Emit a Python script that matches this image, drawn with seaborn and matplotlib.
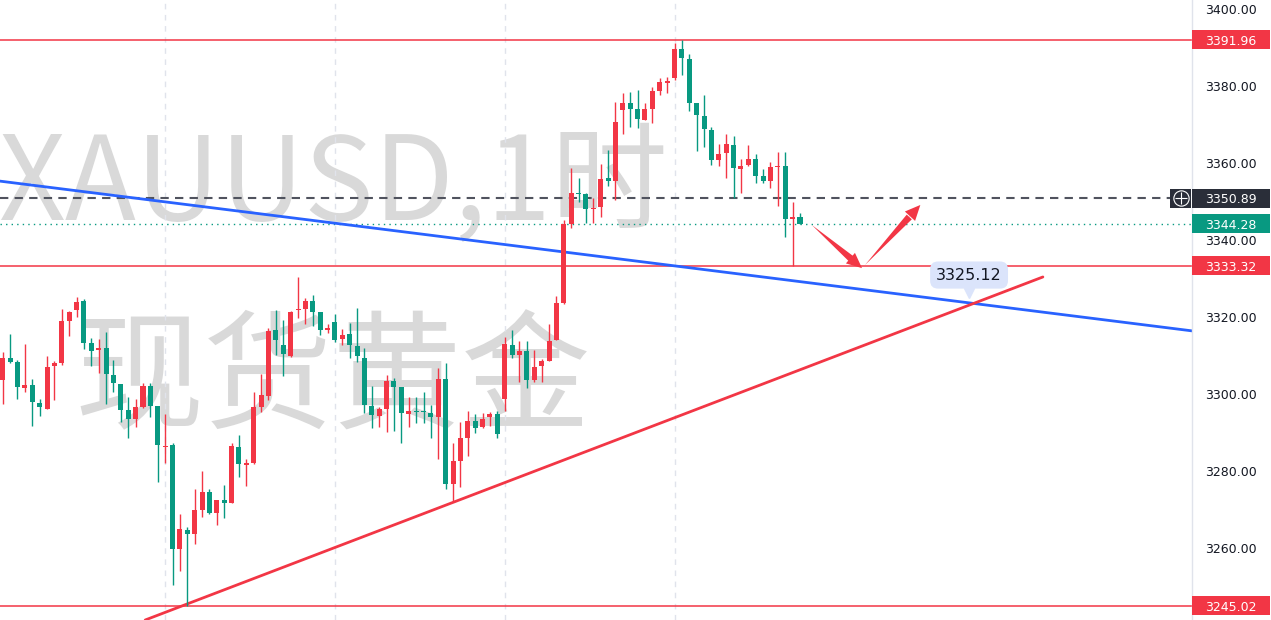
import numpy as np
import matplotlib
matplotlib.use("Agg")
import matplotlib.pyplot as plt
import matplotlib.transforms as mtransforms
from matplotlib.patches import Rectangle
import seaborn as sns

# XAUUSD 1小时K线, 从左到右 (红=涨, 绿=跌)
opens = [3303.6, 3309.3, 3308.2, 3301.6, 3302.3, 3297.6, 3296.2, 3307.3, 3308.1, 3319.0,
         3321.7, 3324.2, 3313.2, 3311.5, 3311.9, 3304.9, 3302.5, 3295.9, 3293.5, 3296.5,
         3302.1, 3297.0, 3286.2, 3286.8, 3259.7, 3264.7, 3263.6, 3270.0, 3274.6, 3269.0,
         3272.5, 3271.8, 3286.3, 3281.6, 3282.1, 3296.6, 3299.6, 3316.5, 3312.6, 3310.0,
         3321.7, 3322.2, 3324.1, 3321.2, 3316.6, 3318.8, 3314.4, 3315.5, 3312.5, 3309.4,
         3297.0, 3294.4, 3296.1, 3303.4, 3301.7, 3294.7, 3295.4, 3295.6, 3295.0, 3294.1,
         3303.8, 3276.6, 3282.6, 3288.5, 3293.1, 3291.4, 3293.9, 3294.8, 3298.8, 3312.7,
         3310.1, 3311.3, 3303.6, 3307.3, 3308.7, 3313.9, 3323.7, 3344.2, 3352.3, 3351.9,
         3348.1, 3348.5, 3356.0, 3355.4, 3373.8, 3375.7, 3373.9, 3371.3, 3374.0, 3378.8,
         3380.9, 3382.2, 3389.6, 3386.9, 3375.5, 3372.3, 3368.6, 3360.8, 3362.7, 3364.7,
         3358.4, 3359.5, 3361.0, 3356.6, 3355.4, 3358.9, 3359.2, 3345.5, 3346.1]
highs = [3311.0, 3315.6, 3308.8, 3312.9, 3303.9, 3298.8, 3310.0, 3308.6, 3322.2, 3321.6,
         3325.2, 3324.6, 3314.6, 3314.2, 3316.1, 3308.8, 3302.5, 3299.1, 3298.7, 3302.8,
         3302.8, 3297.0, 3294.8, 3287.4, 3268.8, 3265.5, 3275.3, 3280.1, 3275.3, 3272.5,
         3276.4, 3287.4, 3289.4, 3283.1, 3300.6, 3305.3, 3317.2, 3321.8, 3319.2, 3321.6,
         3330.5, 3324.9, 3325.6, 3321.2, 3318.1, 3320.8, 3317.0, 3318.5, 3322.4, 3312.0,
         3302.1, 3296.5, 3304.9, 3304.2, 3301.7, 3299.1, 3299.3, 3300.4, 3297.1, 3306.7,
         3308.0, 3287.2, 3292.6, 3295.6, 3294.7, 3295.0, 3295.2, 3295.6, 3314.7, 3316.5,
         3313.8, 3313.8, 3311.4, 3309.2, 3318.1, 3325.5, 3345.2, 3358.6, 3356.0, 3352.1,
         3351.0, 3359.7, 3363.4, 3375.9, 3378.3, 3378.4, 3379.0, 3375.5, 3379.8, 3382.0,
         3382.4, 3391.1, 3391.96, 3388.3, 3375.7, 3377.7, 3369.3, 3364.9, 3367.5, 3367.0,
         3361.0, 3364.6, 3362.3, 3358.4, 3360.2, 3362.8, 3362.8, 3350.0, 3346.9]
lows = [3297.4, 3308.1, 3298.6, 3300.4, 3291.7, 3294.3, 3296.0, 3298.4, 3307.5, 3315.1,
        3320.1, 3311.8, 3307.4, 3305.4, 3297.4, 3300.4, 3292.6, 3288.5, 3291.4, 3296.4,
        3294.0, 3277.1, 3282.0, 3250.5, 3253.9, 3245.02, 3261.0, 3268.1, 3268.8, 3266.0,
        3267.9, 3271.8, 3278.4, 3276.2, 3281.9, 3295.4, 3298.4, 3310.1, 3304.8, 3309.7,
        3319.7, 3318.1, 3317.7, 3315.2, 3315.8, 3313.6, 3312.7, 3309.4, 3308.4, 3295.0,
        3291.3, 3291.5, 3290.2, 3290.5, 3287.4, 3291.5, 3292.4, 3292.4, 3288.7, 3283.0,
        3275.2, 3271.9, 3275.9, 3284.0, 3289.8, 3291.1, 3291.7, 3288.5, 3295.7, 3309.3,
        3303.2, 3301.5, 3303.2, 3303.2, 3308.7, 3313.9, 3323.5, 3343.0, 3350.0, 3344.5,
        3344.3, 3345.9, 3354.0, 3350.4, 3367.5, 3369.4, 3369.0, 3371.2, 3370.5, 3377.7,
        3378.1, 3381.6, 3382.9, 3373.5, 3363.0, 3364.2, 3359.5, 3359.1, 3356.2, 3350.8,
        3352.3, 3359.2, 3354.7, 3354.7, 3353.4, 3348.8, 3340.9, 3333.32, 3344.1]
closes = [3309.3, 3308.4, 3301.8, 3302.3, 3297.8, 3296.5, 3307.1, 3308.1, 3319.0, 3321.4,
          3323.8, 3313.3, 3311.2, 3312.0, 3305.2, 3302.8, 3295.9, 3293.5, 3296.5, 3302.1,
          3297.0, 3286.7, 3286.5, 3259.7, 3264.9, 3263.6, 3270.0, 3274.6, 3269.0, 3272.5,
          3271.6, 3286.5, 3281.7, 3282.0, 3296.5, 3299.7, 3316.4, 3314.0, 3310.3, 3321.4,
          3322.0, 3324.1, 3321.2, 3316.5, 3317.2, 3314.0, 3315.2, 3312.6, 3309.9, 3297.2,
          3294.6, 3296.1, 3303.5, 3301.7, 3295.0, 3295.6, 3295.2, 3295.3, 3293.9, 3303.8,
          3276.6, 3282.6, 3288.5, 3293.1, 3291.1, 3293.6, 3294.7, 3289.5, 3312.9, 3310.1,
          3311.2, 3303.6, 3307.1, 3308.5, 3313.8, 3323.6, 3344.2, 3352.1, 3351.9, 3348.1,
          3348.4, 3355.9, 3355.2, 3370.6, 3375.7, 3374.0, 3371.4, 3374.1, 3378.8, 3381.1,
          3381.3, 3389.6, 3387.2, 3375.7, 3372.5, 3368.8, 3360.8, 3362.3, 3364.9, 3358.8,
          3359.3, 3361.0, 3356.7, 3355.4, 3359.0, 3359.2, 3345.5, 3346.1, 3344.28]

red_levels = [3391.96, 3333.32, 3245.02]
dash_level = 3350.89
last_price = 3344.28
y_ticks = [3260, 3280, 3300, 3320, 3340, 3360, 3380, 3400]
day_starts = [22, 45, 68, 91]

# 趋势线 (K线序号, 价格)
blue_x = [-0.4, 161.1]
blue_y = [3355.3, 3316.4]
red_x = [19.3, 140.9]
red_y = [3241.3, 3330.4]

# 箭头 (起点, 终点)
arrows = [((109.6, 3343.9), (116.4, 3332.7)),
          ((116.8, 3333.5), (124.3, 3349.1))]
note_x, note_y = 130.9, 3330.9
note_text = "3325.12"

RED = "#f23645"
GREEN = "#089981"
BLUE = "#2962ff"
DARK = "#2a2e39"
WM = "#d9d9d9"
Y_MIN, Y_MAX = 3241.3, 3402.34

sns.set_style("white")
plt.rcParams["font.family"] = ["DejaVu Sans", "Noto Sans CJK SC"]

fig = plt.figure(figsize=(12.71, 6.2), dpi=100)
ax = fig.add_axes([0, 0, 1192 / 1271, 1])

for s in ["top", "left", "bottom"]:
    ax.spines[s].set_visible(False)
ax.spines["right"].set_color("#e0e3eb")
ax.spines["right"].set_linewidth(1)

# 水印
ax.text(0.279, 0.698, "XAUUSD,1时", transform=ax.transAxes, ha="center", va="center",
        fontsize=84, color=WM, family=["Noto Sans CJK SC"], weight="light", zorder=0)
ax.text(0.279, 0.382, "现货黄金", transform=ax.transAxes, ha="center", va="center",
        fontsize=93, color=WM, family=["Noto Sans CJK SC"], weight="light", zorder=0)

# 日分隔网格
ax.vlines(day_starts, Y_MIN, Y_MAX, colors="#e0e3eb", lw=1, linestyles=(0, (4, 4)), zorder=0.5)

# 水平线
for lv in red_levels:
    ax.axhline(lv, color=RED, lw=1.1, zorder=2)
ax.axhline(dash_level, xmax=1170 / 1192, color="#50535e", lw=1.5, ls=(0, (4, 3)), zorder=2)
ax.axhline(last_price, color=GREEN, lw=1, ls=(0, (1, 3)), zorder=2)

# 趋势线
sns.lineplot(x=blue_x, y=blue_y, color=BLUE, lw=2, ax=ax, zorder=2.5)
sns.lineplot(x=red_x, y=red_y, color=RED, lw=2, ax=ax, zorder=2.5)

# K线
o = np.array(opens)
h = np.array(highs)
l = np.array(lows)
c = np.array(closes)
x = np.arange(len(o))
colors = np.where(c >= o, RED, GREEN)
ax.vlines(x, l, h, colors=colors, lw=1, zorder=3)
body_low = np.minimum(o, c)
body_h = np.maximum(np.abs(c - o), 0.3)
ax.bar(x, body_h, bottom=body_low, width=0.68, color=colors, lw=0, zorder=3.1)

# 箭头
for (sx, sy), (tx, ty) in arrows:
    bx, by = sx + 0.8 * (tx - sx), sy + 0.8 * (ty - sy)
    hx, hy = sx + 0.7 * (tx - sx), sy + 0.7 * (ty - sy)
    ax.annotate("", xy=(sx, sy), xytext=(bx, by),
                arrowprops=dict(arrowstyle="wedge,tail_width=0.5,shrink_factor=0.5",
                                color=RED, lw=0, shrinkA=0, shrinkB=0, mutation_scale=10),
                zorder=4)
    ax.annotate("", xy=(tx, ty), xytext=(hx, hy),
                arrowprops=dict(arrowstyle="simple,head_length=1.1,head_width=1.0,tail_width=0.01",
                                color=RED, lw=0, shrinkA=0, shrinkB=0, mutation_scale=10),
                zorder=4)

# 价格注释
ax.text(note_x, note_y, note_text, ha="center", va="center", fontsize=11.5, color="#131722",
        zorder=5, bbox=dict(boxstyle="round,pad=0.38,rounding_size=0.5", fc="#dbe4fb", ec="none"))
ax.plot([note_x], [note_y - 4.6], marker="v", ms=7, color="#dbe4fb", zorder=5)

# 右侧价格轴
ax.yaxis.tick_right()
ax.set_yticks(y_ticks)
ax.yaxis.set_major_formatter(matplotlib.ticker.StrMethodFormatter("{x:.2f}"))
ax.tick_params(axis="y", length=0, pad=9.4, labelsize=9, labelcolor="#131722")
ax.set_xticks([])
ax.set_xlim(-0.37, 161.1)
ax.set_ylim(Y_MIN, Y_MAX)

trans = mtransforms.blended_transform_factory(ax.transAxes, ax.transData)
box_h = 19 / 3.85


def price_tag(y, fc):
    ax.add_patch(Rectangle((1.0, y - box_h / 2), 78 / 1192, box_h, transform=trans,
                           fc=fc, ec="none", clip_on=False, zorder=6))
    ax.text(1.0327, y, f"{y:.2f}", transform=trans, ha="center", va="center_baseline",
            color="white", fontsize=9, zorder=7, clip_on=False)


for lv in red_levels:
    price_tag(lv, RED)
price_tag(dash_level, DARK)
price_tag(last_price, GREEN)

# 十字准星按钮
ax.add_patch(Rectangle((1170 / 1192, dash_level - box_h / 2), 21 / 1192, box_h, transform=trans,
                       fc=DARK, ec="none", clip_on=False, zorder=6))
ax.plot([1181 / 1192], [dash_level], marker="o", ms=11, mfc="none", mec="white", mew=0.8,
        transform=trans, clip_on=False, zorder=7)
ax.plot([1181 / 1192], [dash_level], marker="+", ms=8, color="white", mew=0.8,
        transform=trans, clip_on=False, zorder=7)

fig.savefig("out.png", dpi=100)
